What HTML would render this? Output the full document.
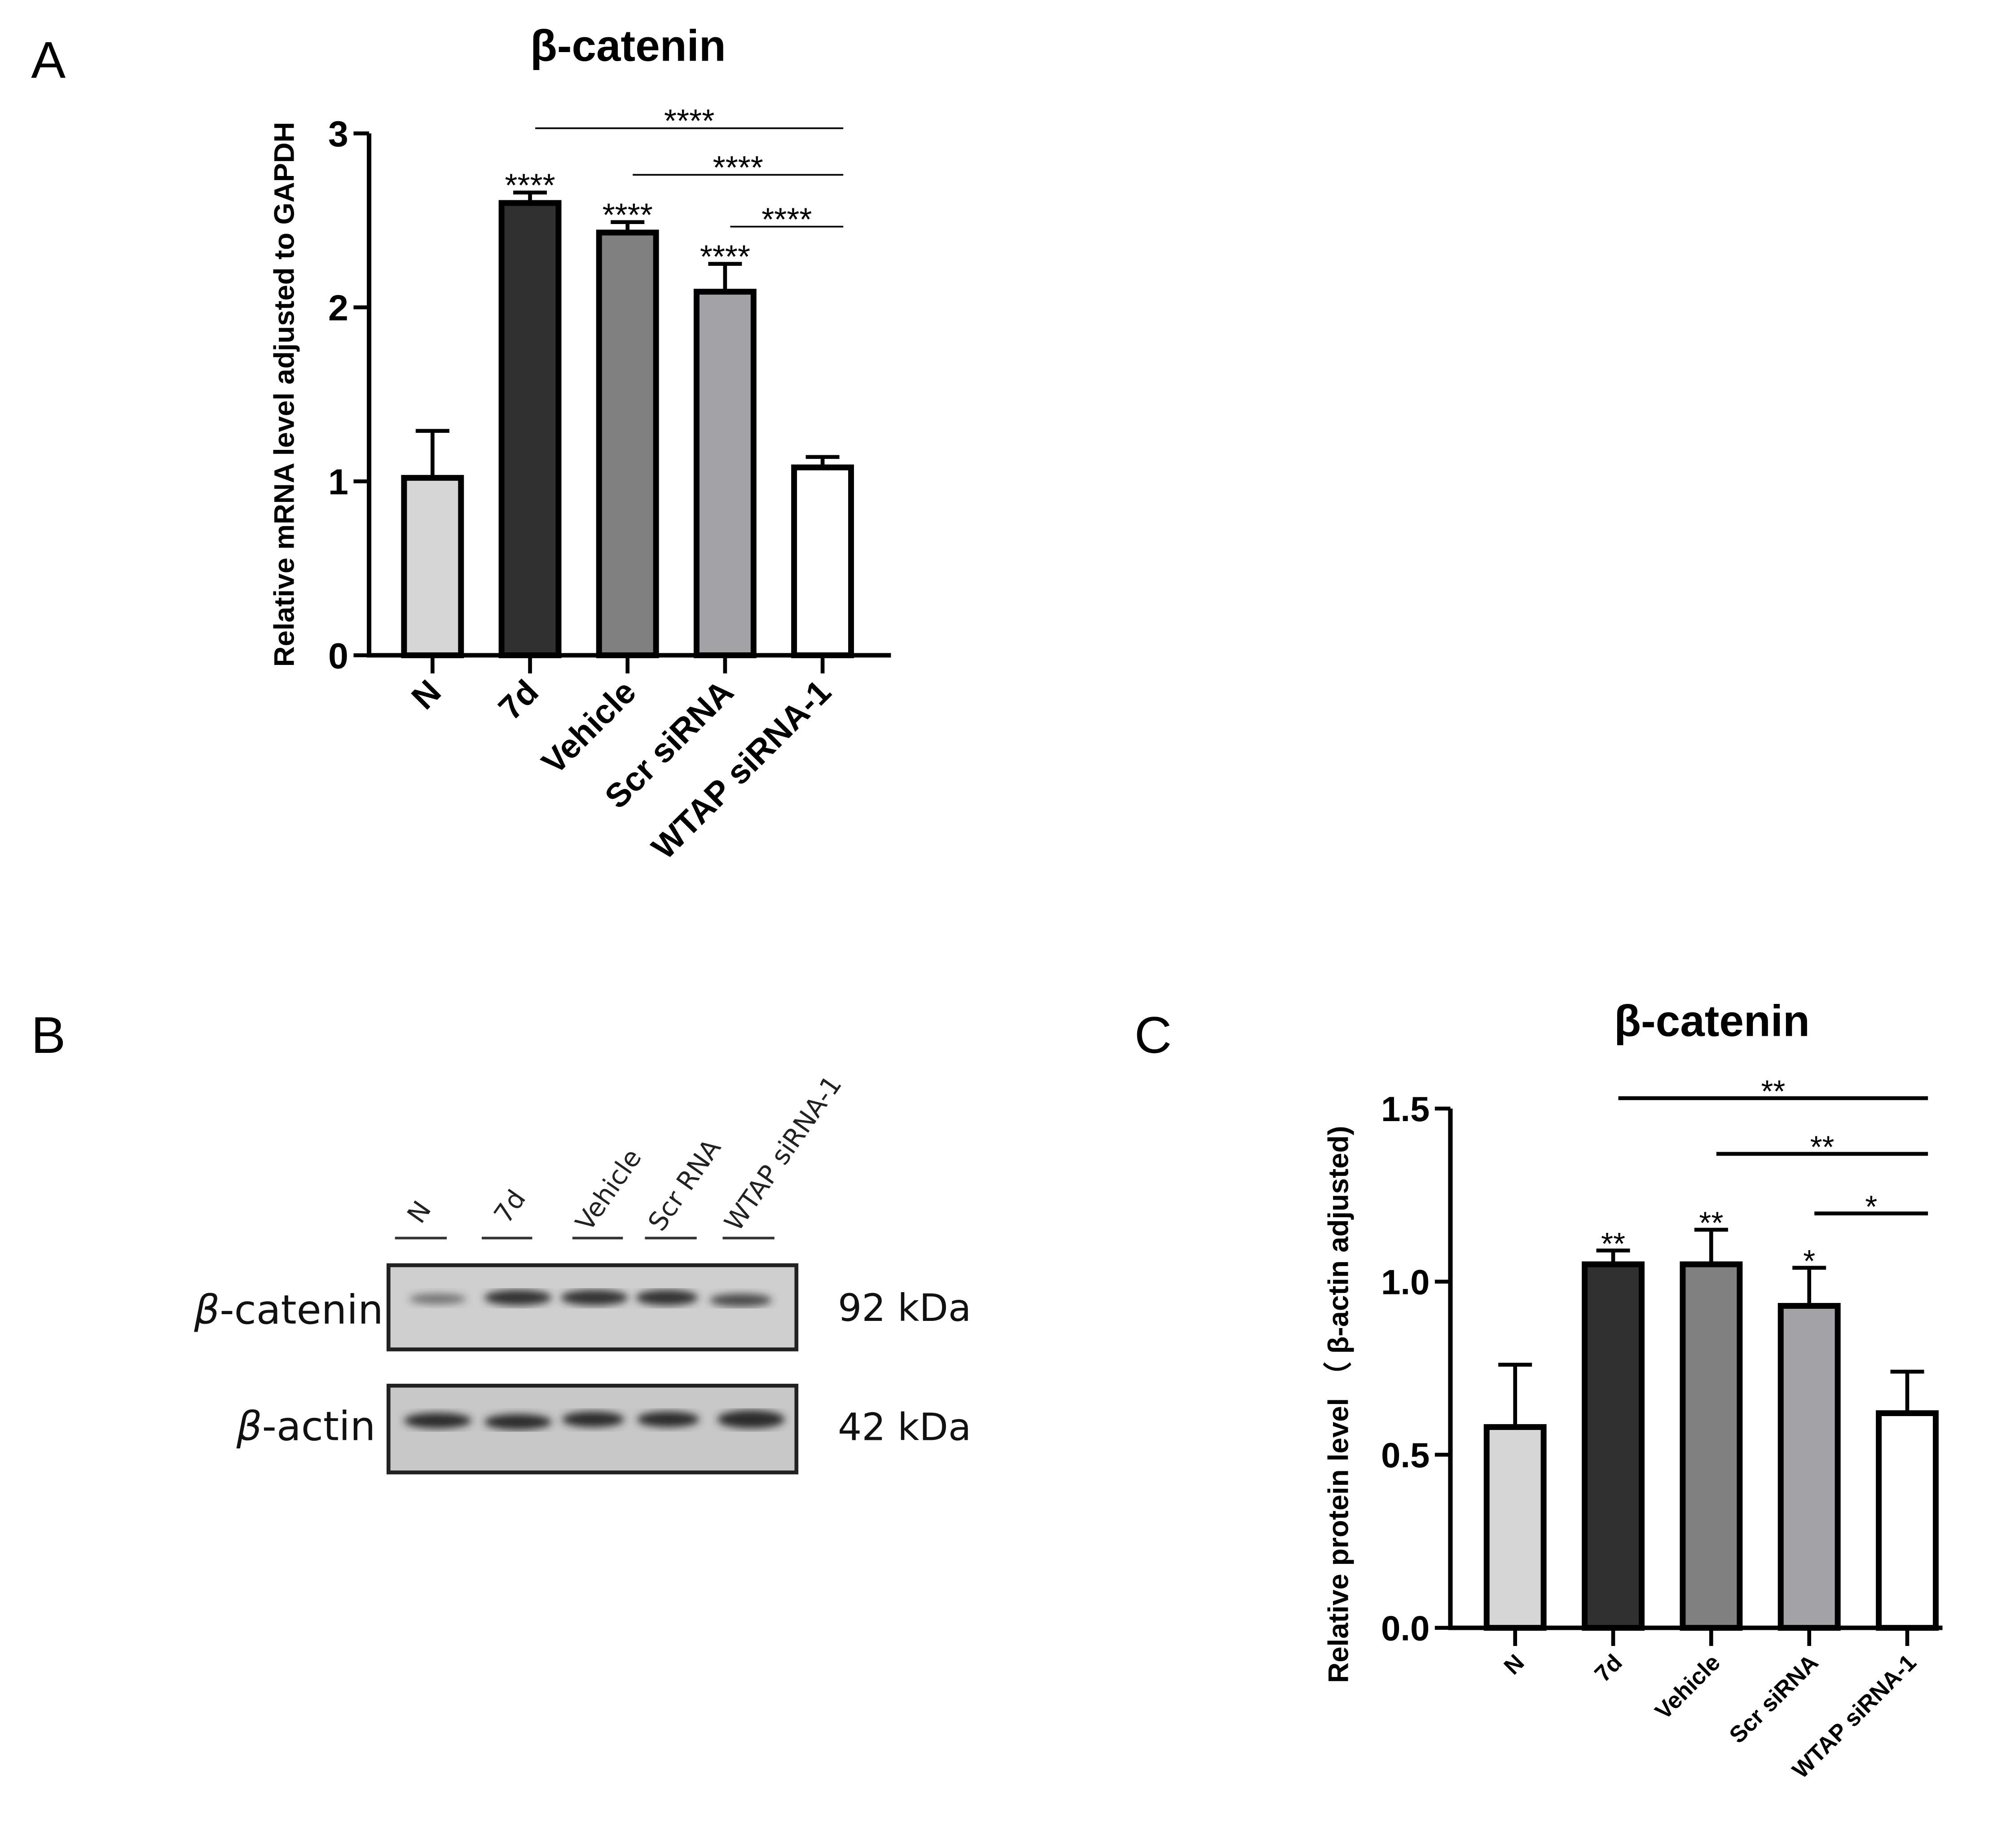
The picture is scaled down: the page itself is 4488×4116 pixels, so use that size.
<!DOCTYPE html>
<html><head><meta charset="utf-8"><style>html,body{margin:0;padding:0;background:#fff}svg{display:block}</style></head>
<body>
<svg id="fig" width="4488" height="4116" viewBox="0 0 1556 1427" xmlns="http://www.w3.org/2000/svg" font-family="Liberation Sans, Arial, sans-serif">
<rect width="1556" height="1427" fill="#fff"/>
<text x="24" y="60" font-size="40">A</text>
<text x="24" y="813" font-size="40">B</text>
<text x="876" y="813" font-size="40">C</text>
<g id="chartA"></g>
<g id="chartC"></g>
<g id="blot">
  <g font-family="DejaVu Sans, sans-serif" font-size="20" fill="#222">
    <text transform="translate(325,946) rotate(-55)">N</text>
    <text transform="translate(392,946) rotate(-55)">7d</text>
    <text transform="translate(455,952) rotate(-55)">Vehicle</text>
    <text transform="translate(511,952) rotate(-55)">Scr RNA</text>
    <text transform="translate(570,952) rotate(-55)">WTAP siRNA-1</text>
  </g>
  <g stroke="#333" stroke-width="2">
    <line x1="305" y1="956" x2="345" y2="956"/><line x1="372" y1="956" x2="411" y2="956"/>
    <line x1="442" y1="956" x2="481" y2="956"/><line x1="498" y1="956" x2="538" y2="956"/>
    <line x1="558" y1="956" x2="598" y2="956"/>
  </g>
  <defs>
    <filter id="blur"><feGaussianBlur stdDeviation="3"/></filter>
  </defs>
  <rect x="300" y="977" width="315" height="65" fill="#cfcfcf" stroke="#222" stroke-width="3"/>
  <g filter="url(#blur)" fill="#333">
    <ellipse cx="338" cy="1003" rx="22" ry="4" opacity="0.6"/>
    <ellipse cx="400" cy="1002" rx="26" ry="6"/>
    <ellipse cx="459" cy="1002" rx="26" ry="6"/>
    <ellipse cx="515" cy="1002" rx="24" ry="6"/>
    <ellipse cx="572" cy="1004" rx="24" ry="5" opacity="0.85"/>
  </g>
  <rect x="300" y="1070" width="315" height="67" fill="#c8c8c8" stroke="#222" stroke-width="3"/>
  <g filter="url(#blur)" fill="#2a2a2a">
    <ellipse cx="338" cy="1097" rx="26" ry="6"/>
    <ellipse cx="400" cy="1098" rx="26" ry="6"/>
    <ellipse cx="458" cy="1096" rx="24" ry="6"/>
    <ellipse cx="516" cy="1096" rx="24" ry="6"/>
    <ellipse cx="580" cy="1096" rx="26" ry="7"/>
  </g>
  <g font-family="DejaVu Sans, sans-serif" fill="#111">
    <text x="296" y="1022" font-size="31" text-anchor="end"><tspan font-style="italic">β</tspan>-catenin</text>
    <text x="290" y="1112" font-size="31" text-anchor="end"><tspan font-style="italic">β</tspan>-actin</text>
    <text x="647" y="1020" font-size="29">92 kDa</text>
    <text x="647" y="1112" font-size="29">42 kDa</text>
  </g>
</g>
<script>
const categories = ["N","7d","Vehicle","Scr siRNA","WTAP siRNA-1"];
const valuesA = [1.02, 2.60, 2.43, 2.09, 1.08];
const errorsA = [0.27, 0.06, 0.06, 0.16, 0.06];
const ticksA = [0, 1, 2, 3];
const starsA = ["", "****", "****", "****", ""];
const sigA = [[1,4,"****"],[2,4,"****"],[3,4,"****"]];
const valuesC = [0.58, 1.05, 1.05, 0.93, 0.62];
const errorsC = [0.18, 0.04, 0.10, 0.11, 0.12];
const ticksC = [0.0, 0.5, 1.0, 1.5];
const starsC = ["", "**", "**", "*", ""];
const sigC = [[1,4,"**"],[2,4,"**"],[3,4,"*"]];
const fills = ["#d6d6d6","#303030","#808080","#a3a3a7","#ffffff"];
const NS = "http://www.w3.org/2000/svg";
function mk(parent, tag, attrs, txt){
  const e = document.createElementNS(NS, tag);
  for (const k in attrs) e.setAttribute(k, attrs[k]);
  if (txt !== undefined) e.textContent = txt;
  parent.appendChild(e); return e;
}
function draw(g, cfg){
  const y = v => cfg.y0 - (v - cfg.ymin) / (cfg.ymax - cfg.ymin) * (cfg.y0 - cfg.ytop);
  const x = i => cfg.x1 + i * cfg.step;
  const fmt = cfg.fmt;
  let t = mk(g,"text",{x:cfg.titleX,y:cfg.titleY,"font-size":cfg.titleSize,"font-weight":"bold","text-anchor":"middle"},"β-catenin");
  
  
  let yl = mk(g,"text",{transform:`translate(${cfg.ylabX},${(cfg.y0+cfg.ytop)/2+cfg.ylabShift}) rotate(-90)`,"font-size":cfg.ylabSize,"font-weight":"bold","text-anchor":"middle"},cfg.ylab);
  
  
  let ax = mk(g,"path",{d:`M${cfg.ax},${cfg.ytop} V${cfg.y0} H${cfg.xend}`,fill:"none",stroke:"#000","stroke-width":3.5});
  
  
  cfg.ticks.forEach(v=>{
    let l = mk(g,"line",{x1:cfg.ax-12,x2:cfg.ax,y1:y(v),y2:y(v),stroke:"#000","stroke-width":3});
    
    
    let tt = mk(g,"text",{x:cfg.ax-16,y:y(v)+cfg.tickSize*0.36,"font-size":cfg.tickSize,"font-weight":"bold","text-anchor":"end"},fmt(v));
    
    
  });
  cfg.vals.forEach((v,i)=>{
    const cx = x(i), hw = cfg.bw/2;
    let eb = mk(g,"path",{d:`M${cx},${y(v)} V${y(v+cfg.errs[i])} M${cx-13},${y(v+cfg.errs[i])} H${cx+13}`,stroke:"#000","stroke-width":3,fill:"none"});
    
    
    let b = mk(g,"rect",{x:cx-hw,y:y(v),width:cfg.bw,height:cfg.y0-y(v),fill:fills[i],stroke:"#000","stroke-width":4.5});
    
    
    if (cfg.stars[i]) {
      let s = mk(g,"text",{x:cx,y:y(v+cfg.errs[i])+cfg.starOff,"font-size":cfg.starSize,"text-anchor":"middle"},cfg.stars[i]);
      
      
    }
    let tk = mk(g,"line",{x1:cx,x2:cx,y1:cfg.y0,y2:cfg.y0+14,stroke:"#000","stroke-width":3});
    
    
    let xl = mk(g,"text",{transform:`translate(${cx+cfg.xlabDx},${cfg.y0+cfg.xlabDy}) rotate(-45)`,"font-size":cfg.xlabSize,"font-weight":"bold","text-anchor":"end"},categories[i]);
    
    
  });
  cfg.sig.forEach((s,k)=>{
    const yy = cfg.sigY[k];
    let l = mk(g,"line",{x1:x(s[0])+4,x2:x(s[1])+16,y1:yy,y2:yy,stroke:"#000","stroke-width":cfg.sigW});
    
    
    let st = mk(g,"text",{x:(x(s[0])+x(s[1]))/2+10,y:yy+cfg.starOff,"font-size":cfg.starSize,"text-anchor":"middle"},s[2]);
    
    
  });
}
draw(document.getElementById('chartA'),{
  y0:506,ytop:103,ymin:0,ymax:3,ax:285,xend:688,x1:334,step:75.3,bw:44,
  vals:valuesA,errs:errorsA,ticks:ticksA,stars:starsA,sig:sigA,sigY:[99,135,175],sigW:1.3,
  fmt:v=>String(v),tickSize:28,starSize:25,starOff:3,
  titleX:485,titleY:47,titleSize:34,ylab:"Relative mRNA level adjusted to GAPDH",ylabX:227,ylabShift:0,ylabSize:22,
  xlabDx:8,xlabDy:30,xlabSize:26
});
draw(document.getElementById('chartC'),{
  y0:1257,ytop:856,ymin:0,ymax:1.5,ax:1120,xend:1500,x1:1170,step:75.7,bw:44,
  vals:valuesC,errs:errorsC,ticks:ticksC,stars:starsC,sig:sigC,sigY:[848,891,937],sigW:3,
  fmt:v=>v.toFixed(1),tickSize:27,starSize:24,starOff:3,
  titleX:1322,titleY:800,titleSize:34,ylab:"Relative protein level （ β-actin adjusted)",ylabX:1041,ylabShift:28,ylabSize:22,
  xlabDx:8,xlabDy:28,xlabSize:18
});
</script>
</svg>
</body></html>
